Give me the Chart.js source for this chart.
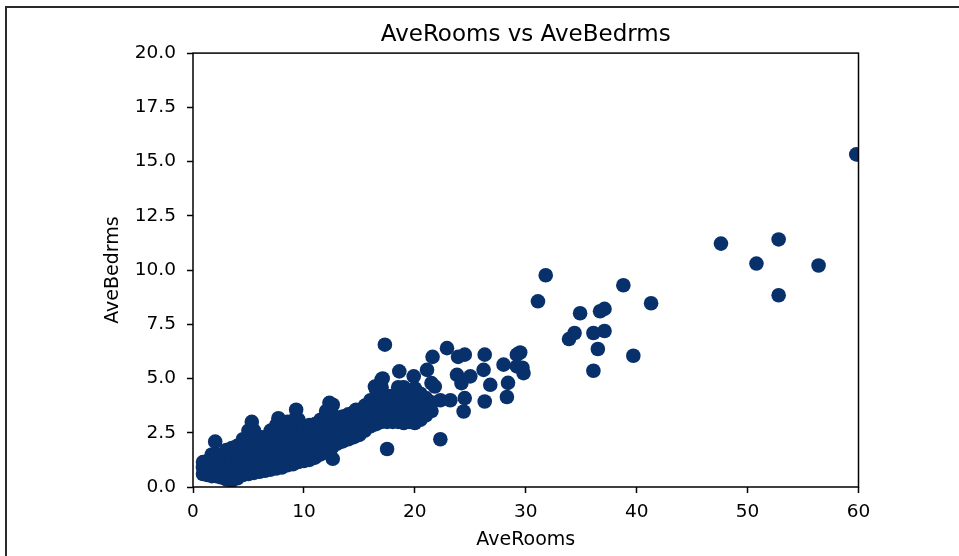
<!DOCTYPE html>
<html>
<head>
<meta charset="utf-8">
<script src="https://cdn.jsdelivr.net/npm/chart.js@4/dist/chart.umd.min.js"></script>
<style>
  html, body { margin: 0; padding: 0; background: #fff; }
  #wrap { position: relative; width: 959px; height: 556px; overflow: hidden; }
  #frame { position: absolute; left: 5px; top: 6px; width: 970px; height: 600px;
           border-left: 2px solid #2a2a2a; border-top: 2px solid #2a2a2a; }
  canvas { position: absolute; left: 0; top: 0; }
</style>
</head>
<body>
<div id="wrap">
  <div id="frame"></div>
  <canvas id="chart" width="959" height="556"></canvas>
</div>
<script>
// AveRooms vs AveBedrms.
// Each entry is [AveRooms, AveBedrms].

const TITLE = "AveRooms vs AveBedrms";
const X_LABEL = "AveRooms";
const Y_LABEL = "AveBedrms";
const X_TICKS = [0, 10, 20, 30, 40, 50, 60];
const Y_TICKS = [0, 2.5, 5, 7.5, 10, 12.5, 15, 17.5, 20];
const POINT_COLOR = "#08306b";

// the overlapping bulk of the districts (x < ~22)
const denseCluster = [
  [0.9, 0.6], [0.9, 0.9], [0.9, 1.15],
  [1.3, 0.55], [1.3, 0.85], [1.3, 1.2],
  [1.7, 0.5], [1.7, 0.85], [1.7, 1.2], [1.7, 1.5],
  [2.1, 0.5], [2.1, 0.85], [2.1, 1.2], [2.1, 1.5],
  [2.5, 0.45], [2.5, 0.8], [2.5, 1.15], [2.5, 1.5],
  [3.0, 0.35], [3.0, 0.7], [3.0, 1.05], [3.0, 1.4], [3.0, 1.7],
  [3.5, 0.3], [3.5, 0.65], [3.5, 1.0], [3.5, 1.4], [3.5, 1.8],
  [4.0, 0.4], [4.0, 0.75], [4.0, 1.1], [4.0, 1.5], [4.0, 1.9],
  [4.5, 0.55], [4.5, 0.9], [4.5, 1.3], [4.5, 1.7], [4.5, 2.2],
  [5.0, 0.6], [5.0, 1.0], [5.0, 1.4], [5.0, 1.8], [5.0, 2.2], [5.0, 2.6],
  [5.5, 0.65], [5.5, 1.05], [5.5, 1.45], [5.5, 1.85], [5.5, 2.25], [5.5, 2.6],
  [6.0, 0.7], [6.0, 1.1], [6.0, 1.5], [6.0, 1.9], [6.0, 2.3],
  [6.5, 0.75], [6.5, 1.15], [6.5, 1.55], [6.5, 1.95], [6.5, 2.3],
  [7.0, 0.8], [7.0, 1.2], [7.0, 1.6], [7.0, 2.0], [7.0, 2.4], [7.0, 2.6],
  [7.5, 0.85], [7.5, 1.25], [7.5, 1.65], [7.5, 2.05], [7.5, 2.45], [7.5, 2.85],
  [8.0, 0.9], [8.0, 1.3], [8.0, 1.7], [8.0, 2.1], [8.0, 2.5], [8.0, 2.9],
  [8.5, 1.0], [8.5, 1.4], [8.5, 1.8], [8.5, 2.2], [8.5, 2.6], [8.5, 3.0],
  [9.0, 1.05], [9.0, 1.45], [9.0, 1.85], [9.0, 2.25], [9.0, 2.65], [9.0, 3.05],
  [9.5, 1.15], [9.5, 1.55], [9.5, 1.95], [9.5, 2.35], [9.5, 2.75], [9.5, 3.1],
  [10.0, 1.2], [10.0, 1.6], [10.0, 2.0], [10.0, 2.4], [10.0, 2.8],
  [10.5, 1.25], [10.5, 1.65], [10.5, 2.05], [10.5, 2.45], [10.5, 2.85],
  [11.0, 1.35], [11.0, 1.75], [11.0, 2.15], [11.0, 2.55], [11.0, 2.9],
  [11.5, 1.5], [11.5, 1.9], [11.5, 2.3], [11.5, 2.7], [11.5, 3.1],
  [12.0, 1.6], [12.0, 2.0], [12.0, 2.4], [12.0, 2.8], [12.0, 3.2], [12.0, 3.5],
  [12.5, 1.8], [12.5, 2.2], [12.5, 2.6], [12.5, 3.0], [12.5, 3.4],
  [13.0, 2.0], [13.0, 2.4], [13.0, 2.8], [13.0, 3.2],
  [13.5, 2.1], [13.5, 2.5], [13.5, 2.9], [13.5, 3.25],
  [14.0, 2.2], [14.0, 2.6], [14.0, 3.0], [14.0, 3.35],
  [14.5, 2.3], [14.5, 2.7], [14.5, 3.1], [14.5, 3.45],
  [15.0, 2.4], [15.0, 2.8], [15.0, 3.2], [15.0, 3.55],
  [15.5, 2.6], [15.5, 3.0], [15.5, 3.4], [15.5, 3.75],
  [16.0, 2.8], [16.0, 3.2], [16.0, 3.6], [16.0, 4.0],
  [16.5, 2.9], [16.5, 3.3], [16.5, 3.7], [16.5, 4.1], [16.5, 4.5],
  [17.0, 3.0], [17.0, 3.4], [17.0, 3.8], [17.0, 4.2], [17.0, 4.6], [17.0, 4.95],
  [17.5, 3.0], [17.5, 3.4], [17.5, 3.8], [17.5, 4.2],
  [18.0, 3.0], [18.0, 3.4], [18.0, 3.8], [18.0, 4.2],
  [18.5, 3.0], [18.5, 3.4], [18.5, 3.8], [18.5, 4.2], [18.5, 4.6],
  [19.0, 2.95], [19.0, 3.35], [19.0, 3.75], [19.0, 4.15], [19.0, 4.6],
  [19.5, 3.0], [19.5, 3.4], [19.5, 3.8], [19.5, 4.2],
  [20.0, 2.95], [20.0, 3.35], [20.0, 3.75], [20.0, 4.15], [20.0, 4.55],
  [20.5, 3.1], [20.5, 3.5], [20.5, 3.9], [20.5, 4.3],
  [21.0, 3.3], [21.0, 3.7], [21.0, 4.1],
  [21.5, 3.5], [21.5, 3.9],
];

// scattered points around and just beyond the bulk
const spreadPoints = [
  [2.0, 2.09], [5.3, 3.0], [7.7, 3.17], [9.3, 3.56], [12.3, 3.88], [12.6, 3.79],
  [12.6, 1.3], [14.7, 3.56], [16.4, 4.63], [17.1, 5.0], [17.3, 6.56], [17.5, 1.75],
  [18.6, 5.33], [18.9, 4.57], [19.9, 5.1], [21.1, 5.4], [21.5, 4.79], [21.6, 6.0],
  [21.8, 4.63], [22.3, 4.0], [22.3, 2.2], [22.9, 6.4], [23.2, 4.0], [23.8, 5.17],
  [23.9, 6.0], [24.2, 4.79], [24.4, 3.48], [24.5, 4.1], [24.5, 6.1], [25.0, 5.1],
  [26.2, 5.4], [26.3, 6.1], [26.3, 3.94], [26.8, 4.71], [28.0, 5.64], [28.3, 4.15],
  [28.4, 4.8], [29.2, 5.56], [29.2, 6.1], [29.5, 6.2], [29.7, 5.5], [29.8, 5.25],
];

// the large-room outliers (x > 30)
const outliers = [
  [31.1, 8.56], [31.8, 9.76], [33.9, 6.82], [34.4, 7.1], [34.9, 8.01], [36.1, 7.1],
  [36.1, 5.36], [36.5, 6.36], [36.7, 8.1], [37.1, 8.21], [37.1, 7.19], [38.8, 9.3],
  [39.7, 6.05], [41.3, 8.47], [47.6, 11.22], [50.8, 10.3], [52.8, 11.41], [52.8, 8.84],
  [56.4, 10.21], [59.8, 15.33],
];

const toXY = (pairs) => pairs.map(([x, y]) => ({ x, y }));

// matplotlib-style box: all four spines drawn on top of the markers
const spines = {
  id: "spines",
  afterDatasetsDraw(chart) {
    const { ctx, chartArea: a } = chart;
    ctx.save();
    ctx.strokeStyle = "#000";
    ctx.lineWidth = 1.5;
    ctx.strokeRect(a.left, a.top, a.right - a.left, a.bottom - a.top);
    ctx.restore();
  },
};

const FONT = "'DejaVu Sans', sans-serif";
const tickFont = { family: FONT, size: 18.5 };
const labelFont = { family: FONT, size: 19 };

const markerStyle = {
  backgroundColor: POINT_COLOR,
  borderWidth: 0,
  pointRadius: 7.3,
  pointHoverRadius: 7.3,
  clip: 0,
};

new Chart(document.getElementById("chart"), {
  type: "scatter",
  data: {
    datasets: [
      { data: toXY(denseCluster), ...markerStyle },
      { data: toXY(spreadPoints), ...markerStyle },
      { data: toXY(outliers), ...markerStyle },
    ],
  },
  options: {
    responsive: false,
    animation: false,
    devicePixelRatio: 1,
    layout: { padding: { left: 0, right: 100.5, top: 0, bottom: 0 } },
    plugins: {
      legend: { display: false },
      tooltip: { enabled: false },
      title: {
        display: true,
        fullSize: false, // centre over the plot box, like matplotlib
        text: TITLE,
        color: "#000",
        font: { family: FONT, size: 23, weight: "normal" },
        padding: { top: 21.5, bottom: 4 },
      },
    },
    scales: {
      x: {
        type: "linear",
        min: 0,
        max: 60,
        afterFit: (s) => { s.height = 69; },
        afterBuildTicks: (s) => { s.ticks = X_TICKS.map((v) => ({ value: v })); },
        grid: { drawOnChartArea: false, drawTicks: true, tickLength: 6, tickWidth: 1.5, tickColor: "#000" },
        border: { display: false },
        ticks: { color: "#000", font: tickFont, padding: 8, maxRotation: 0, callback: (v) => String(v) },
        title: { display: true, text: X_LABEL, color: "#000", font: labelFont, padding: { top: 0, bottom: 5 } },
      },
      y: {
        type: "linear",
        min: 0,
        max: 20,
        afterFit: (s) => { s.width = 193; },
        afterBuildTicks: (s) => { s.ticks = Y_TICKS.map((v) => ({ value: v })); },
        grid: { drawOnChartArea: false, drawTicks: true, tickLength: 6, tickWidth: 1.5, tickColor: "#000" },
        border: { display: false },
        ticks: { color: "#000", font: tickFont, padding: 11, callback: (v) => Number(v).toFixed(1) },
        title: { display: true, text: Y_LABEL, color: "#000", font: labelFont, padding: { top: 101.5, bottom: 0 } },
      },
    },
  },
  plugins: [spines],
});
</script>
</body>
</html>
